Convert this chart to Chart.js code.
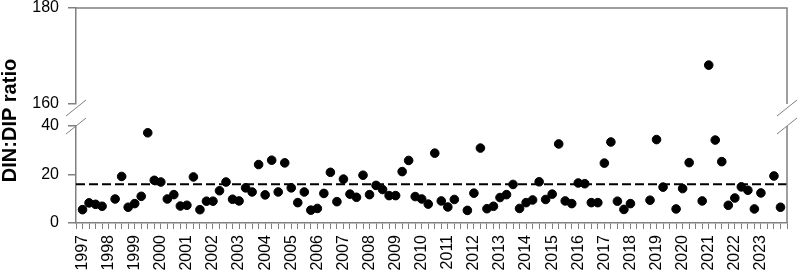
<!DOCTYPE html>
<html>
<head>
<meta charset="utf-8">
<script src="https://cdn.jsdelivr.net/npm/chart.js@4"></script>
<style>
  html, body { margin: 0; padding: 0; background: #fff; }
  #wrap { position: relative; width: 800px; height: 275px; }
</style>
</head>
<body>
<div id="wrap"><canvas id="ratioChart"></canvas></div>
<script>
// one label per year, placed at the first quarter of each year
const YEAR_LABELS = ["1997", "1998", "1999", "2000", "2001", "2002", "2003", "2004", "2005",
  "2006", "2007", "2008", "2009", "2010", "2011", "2012", "2013", "2014", "2015", "2016",
  "2017", "2018", "2019", "2020", "2021", "2022", "2023"];

// DIN:DIP ratio, quarterly from 1997 Q1 (null = no sample that quarter)
const RATIO = [
  5.5, 8.3, 7.7, 6.9, null, 9.9, 19.2, 6.5, 8.0, 11.0, 37.2, 17.6,
  16.9, 9.9, 11.7, 7.0, 7.3, 19.0, 5.5, 9.0, 9.0, 13.3, 16.9, 9.8,
  9.1, 14.5, 12.8, 24.1, 11.6, 25.9, 12.8, 24.8, 14.5, 8.4, 12.8, 5.3,
  6.0, 12.2, 20.9, 8.8, 18.1, 11.9, 10.6, 19.7, 11.7, 15.5, 13.8, 11.3,
  11.3, 21.2, 25.8, 10.9, 9.9, 7.8, 28.8, 9.1, 6.6, 9.7, null, 5.2,
  12.3, 30.9, 5.9, 6.9, 10.5, 11.7, 15.9, 6.0, 8.4, 9.5, 17.0, 9.7,
  11.9, 32.6, 9.1, 8.0, 16.5, 16.2, 8.4, 8.4, 24.7, 33.4, 9.0, 5.6,
  8.0, null, null, 9.4, 34.4, 14.8, null, 5.8, 14.2, 24.9, null, 9.1,
  168.1, 34.2, 25.3, 7.3, 10.3, 14.9, 13.5, 5.8, 12.4, null, 19.4, 6.5
];

const REDFIELD = 16;        // reference line
const LOW_RANGE = [0, 40];  // lower panel
const HIGH_RANGE = [160, 180]; // upper panel
const X_RANGE = [-1, 108];  // quarter index range

const AXIS_GRAY = "#808080";
const FONT = '"Liberation Sans", Arial, sans-serif';

const points = RATIO.map((v, i) => ({ x: i, y: v })).filter((p) => p.y !== null);
const lowPoints = points.filter((p) => p.y <= LOW_RANGE[1]);
const highPoints = points.filter((p) => p.y >= HIGH_RANGE[0]);

// same width for all stacked y axes, and no extra room for the top/bottom labels
const fixWidth = (s) => {
  s.width = 76;
  s.paddingTop = 8;
  s.paddingBottom = 0;
};

const framePlugin = {
  id: "frame",
  afterDraw(chart) {
    const { ctx, chartArea } = chart;
    const hi = chart.scales.yHigh;
    const lo = chart.scales.yLow;
    const l = chartArea.left;
    const r = chartArea.right;
    ctx.save();
    ctx.strokeStyle = AXIS_GRAY;
    ctx.lineWidth = 1.5;
    ctx.beginPath();
    ctx.moveTo(l, hi.top);
    ctx.lineTo(r, hi.top);
    ctx.lineTo(r, hi.bottom);
    ctx.moveTo(r, lo.top);
    ctx.lineTo(r, lo.bottom);
    ctx.stroke();
    // axis break marks
    ctx.lineWidth = 1;
    ctx.beginPath();
    for (const x of [l, r]) {
      for (const y of [hi.bottom + 4, lo.top]) {
        ctx.moveTo(x - 10, y + 8);
        ctx.lineTo(x + 10, y - 8);
      }
    }
    ctx.stroke();
    // y title, centred on the whole plot
    ctx.fillStyle = "#000";
    ctx.font = "bold 20px " + FONT;
    ctx.translate(10, (hi.top + lo.bottom) / 2 + 5);
    ctx.rotate(-Math.PI / 2);
    ctx.textAlign = "center";
    ctx.textBaseline = "middle";
    ctx.fillText("DIN:DIP ratio", 0, 0);
    ctx.restore();
  },
};

const yTicks = { color: "#000", font: { size: 16, family: FONT }, padding: 9, stepSize: 20 };
const yGrid = { drawOnChartArea: false, tickLength: 8, color: AXIS_GRAY, lineWidth: 1.5 };

new Chart(document.getElementById("ratioChart"), {
  type: "scatter",
  data: {
    datasets: [
      {
        type: "line",
        data: [{ x: X_RANGE[0], y: REDFIELD }, { x: X_RANGE[1], y: REDFIELD }],
        yAxisID: "yLow",
        borderColor: "#000",
        borderWidth: 2,
        borderDash: [9, 4],
        pointRadius: 0,
      },
      {
        data: lowPoints,
        yAxisID: "yLow",
        backgroundColor: "#000",
        borderColor: "#000",
        pointRadius: 4.3,
      },
      {
        data: highPoints,
        yAxisID: "yHigh",
        backgroundColor: "#000",
        borderColor: "#000",
        pointRadius: 4.3,
      },
    ],
  },
  options: {
    responsive: true,
    maintainAspectRatio: false,
    animation: false,
    layout: { padding: { top: 0, right: 13, left: 0, bottom: 0 } },
    plugins: { legend: { display: false }, tooltip: { enabled: false } },
    scales: {
      x: {
        type: "linear",
        min: X_RANGE[0],
        max: X_RANGE[1],
        border: { color: AXIS_GRAY, width: 1.5 },
        grid: { drawOnChartArea: false, tickLength: 6, color: AXIS_GRAY, lineWidth: 1 },
        ticks: {
          stepSize: 1,
          autoSkip: false,
          maxTicksLimit: 500,
          minRotation: 90,
          maxRotation: 90,
          padding: 6,
          color: "#000",
          font: { size: 16, family: FONT },
          callback: (v) => (v >= 0 && v % 4 === 0 ? YEAR_LABELS[v / 4] || "" : ""),
        },
        afterFit: (s) => {
          s.height = 52;
          s.paddingLeft = 0;
          s.paddingRight = 0;
        },
      },
      yHigh: {
        type: "linear",
        position: "left",
        stack: "ratio",
        stackWeight: 96,
        weight: 3,
        min: HIGH_RANGE[0],
        max: HIGH_RANGE[1],
        border: { color: AXIS_GRAY, width: 1.5 },
        grid: yGrid,
        ticks: yTicks,
        afterFit: fixWidth,
      },
      yGap: {
        type: "linear",
        position: "left",
        stack: "ratio",
        stackWeight: 22,
        weight: 2,
        border: { display: false },
        grid: { display: false },
        ticks: { display: false },
        afterFit: fixWidth,
      },
      yLow: {
        type: "linear",
        position: "left",
        stack: "ratio",
        stackWeight: 97,
        weight: 1,
        min: LOW_RANGE[0],
        max: LOW_RANGE[1],
        border: { color: AXIS_GRAY, width: 1.5 },
        grid: yGrid,
        ticks: yTicks,
        afterFit: fixWidth,
      },
    },
  },
  plugins: [framePlugin],
});
</script>
</body>
</html>
